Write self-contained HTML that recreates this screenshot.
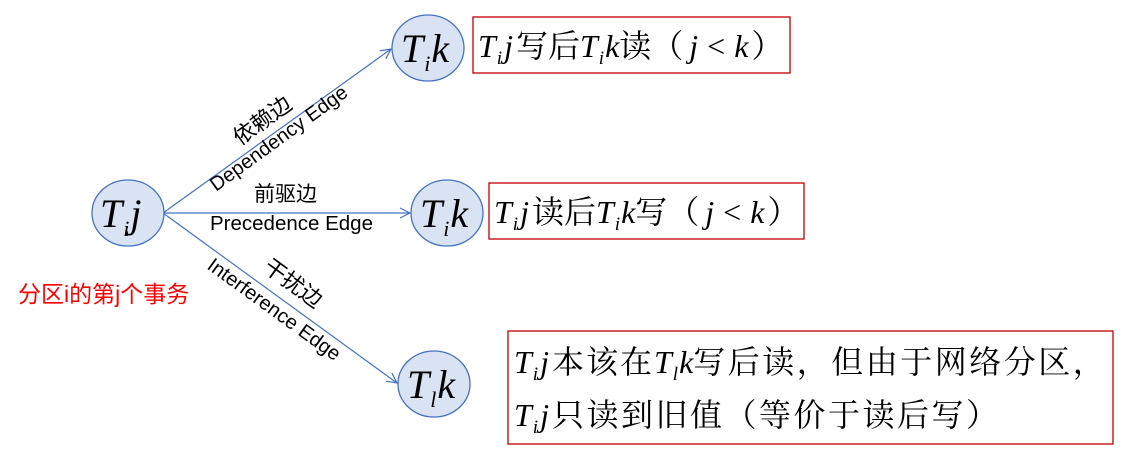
<!DOCTYPE html>
<html><head><meta charset="utf-8"><style>
body{margin:0;background:#fff;}
svg{display:block;}
.m{font-family:"Liberation Serif","Noto Serif CJK SC",serif;font-style:italic;}
.c{font-family:"Liberation Serif","Noto Serif CJK SC",serif;font-style:normal;}
.s{font-family:"Liberation Sans","Noto Sans CJK SC",sans-serif;}
</style></head><body>
<svg width="1133" height="465" viewBox="0 0 1133 465" xmlns="http://www.w3.org/2000/svg">
<defs><marker id="a" markerWidth="12" markerHeight="12" refX="11" refY="6" orient="auto" markerUnits="userSpaceOnUse"><path d="M1,1 L11,6 L1,11" fill="none" stroke="#4472c4" stroke-width="1.2"/></marker></defs>
<g stroke="#4472c4" stroke-width="1.2" fill="none">
<line x1="163" y1="213" x2="391" y2="49" marker-end="url(#a)"/>
<line x1="163" y1="213" x2="410" y2="213" marker-end="url(#a)"/>
<line x1="163" y1="213" x2="397" y2="383" marker-end="url(#a)"/>
</g>
<g fill="#dae3f3" stroke="#4472c4" stroke-width="1.3">
<ellipse cx="128" cy="213" rx="36" ry="33"/>
<ellipse cx="428" cy="48" rx="36" ry="33"/>
<ellipse cx="447" cy="213" rx="36" ry="33"/>
<ellipse cx="434" cy="384" rx="36" ry="33"/>
</g>
<g class="m" font-size="40" fill="#000">
<text x="100" y="227">T<tspan font-size="22" dy="9" dx="1">i</tspan><tspan dy="-9" dx="1">j</tspan></text>
<text x="401" y="62">T<tspan font-size="22" dy="9" dx="1">i</tspan><tspan dy="-9" dx="1">k</tspan></text>
<text x="420" y="227">T<tspan font-size="22" dy="9" dx="1">i</tspan><tspan dy="-9" dx="1">k</tspan></text>
<text x="407" y="398">T<tspan font-size="22" dy="9" dx="1">l</tspan><tspan dy="-9" dx="1">k</tspan></text>
</g>
<g fill="none" stroke="#c00000" stroke-width="1.3">
<rect x="473" y="17" width="317" height="56"/>
<rect x="489" y="183" width="315" height="56"/>
<rect x="508" y="331" width="605" height="113"/>
</g>
<g class="m" font-size="32" fill="#000">
<text x="478" y="57">T<tspan font-size="19" dy="7" dx="1">i</tspan><tspan dy="-7" dx="2">j</tspan><tspan class="c" dx="3">写后</tspan>T<tspan font-size="19" dy="7" dx="1">i</tspan><tspan dy="-7" dx="1">k</tspan><tspan class="c">读（</tspan><tspan dx="6">j</tspan><tspan class="c" dx="9">&lt;</tspan><tspan dx="9">k</tspan><tspan class="c" dx="3">）</tspan></text>
<text x="494" y="223">T<tspan font-size="19" dy="7" dx="1">i</tspan><tspan dy="-7" dx="2">j</tspan><tspan class="c" dx="3">读后</tspan>T<tspan font-size="19" dy="7" dx="1">i</tspan><tspan dy="-7" dx="1">k</tspan><tspan class="c">写（</tspan><tspan dx="6">j</tspan><tspan class="c" dx="9">&lt;</tspan><tspan dx="9">k</tspan><tspan class="c" dx="3">）</tspan></text>
<text x="514" y="373">T<tspan font-size="19" dy="7" dx="1">i</tspan><tspan dy="-7" dx="2">j</tspan><tspan class="c" dx="3" letter-spacing="2">本该在</tspan>T<tspan font-size="19" dy="7" dx="1">l</tspan><tspan dy="-7" dx="1">k</tspan><tspan class="c" letter-spacing="2.5">写后读，但由于网络分区，</tspan></text>
<text x="514" y="426">T<tspan font-size="19" dy="7" dx="1">i</tspan><tspan dy="-7" dx="2">j</tspan><tspan class="c" dx="3" letter-spacing="2.5">只读到旧值（等价于读后写）</tspan></text>
</g>
<text class="s" x="18" y="302" font-size="23" fill="#ff0000">分区i的第j个事务</text>
<g class="s" fill="#000">
<text x="240" y="146" font-size="22" transform="rotate(-36 240 146)">依赖边</text>
<text x="216" y="192" font-size="20" transform="rotate(-36 216 192)">Dependency Edge</text>
<text x="254" y="201" font-size="21">前驱边</text>
<text x="210" y="230" font-size="20.5">Precedence Edge</text>
<text x="262" y="270" font-size="22" transform="rotate(36 262 270)">干扰边</text>
<text x="206" y="268" font-size="20" transform="rotate(36 206 268)">Interference Edge</text>
</g>
</svg>
</body></html>
